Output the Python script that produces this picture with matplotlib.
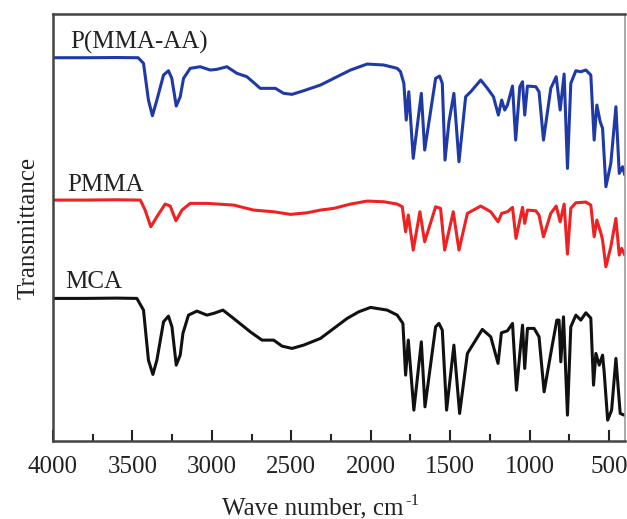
import matplotlib.pyplot as plt
import numpy as np

# wavenumber (cm-1) / transmittance (a.u., curves stacked)
mca_wn = [4000, 3800, 3600, 3472, 3430, 3399, 3371, 3346, 3304, 3273, 3251, 3224, 3199, 3182,
          3147, 3094, 3031, 2989, 2930, 2863, 2758, 2684, 2611, 2558, 2495, 2422, 2316, 2232,
          2148, 2075, 2001, 1896, 1833, 1797, 1780, 1763, 1728, 1681, 1658, 1591, 1570, 1549,
          1522, 1476, 1440, 1391, 1297, 1244, 1198, 1177, 1139, 1107, 1082, 1044, 1030, 1013,
          971, 940, 908, 866, 828, 814, 803, 786, 761, 740, 708, 677, 645, 614, 597, 582, 561,
          540, 530, 508, 483, 456, 429, 404]
mca_t = [142.7, 142.7, 143, 142.7, 131, 81, 66.7, 81, 119.3, 125, 114.3, 76, 86, 107.7,
         126, 130, 126, 127.7, 131, 122.7, 109.3, 101, 101, 95, 92.7, 96, 102.7, 112.7,
         122.7, 129.3, 133.7, 131, 126, 117.7, 66, 101, 31, 99.3, 34.3, 114.3, 117.7, 111,
         31, 96, 27.7, 87.7, 111.7, 104.3, 77.7, 108.3, 110.3, 117.7, 51, 116, 72.7, 112.7,
         112.7, 104.3, 49.3, 87.7, 121, 121, 79.3, 124.3, 26, 114.3, 126, 121, 128.3, 123, 56,
         87.7, 76, 86, 69.3, 21, 31, 82.7, 27.7, 26]

pmma_wn = [4000, 3800, 3600, 3450, 3420, 3384, 3346, 3294, 3262, 3226, 3188, 3136, 3031, 2863,
           2737, 2611, 2505, 2400, 2316, 2232, 2127, 2022, 1917, 1833, 1801, 1780, 1763, 1732,
           1690, 1660, 1591, 1560, 1534, 1480, 1444, 1391, 1307, 1244, 1198, 1175, 1139, 1107,
           1085, 1044, 1030, 1013, 960, 940, 912, 866, 832, 807, 782, 761, 740, 708, 645, 614,
           593, 576, 550, 540, 519, 488, 456, 435, 420, 400]
pmma_t = [241, 241, 241.3, 241, 231, 214.3, 224.3, 237, 235, 220.3, 231, 237.7, 237.7, 236,
          231, 229.3, 226.7, 228.3, 231, 232.7, 237, 240, 239.3, 237, 234.3, 209.3, 226, 191,
          229.3, 199.3, 234.3, 232.7, 191, 229.3, 191, 227.7, 235, 229.3, 219.3, 227.7, 229.3, 233.7,
          202.7, 233.7, 217.7, 231, 230.3, 226, 204.3, 227.7, 235, 219.3, 237, 187, 232.7, 238.3, 239, 236,
          204.3, 221, 207.7, 201, 174.3, 194.3, 222.7, 186, 192.7, 186]

pmaa_wn = [4000, 3800, 3600, 3464, 3430, 3399, 3374, 3346, 3304, 3273, 3252, 3224, 3199, 3178,
           3136, 3073, 3010, 2968, 2905, 2842, 2779, 2695, 2600, 2548, 2495, 2422, 2316, 2232,
           2127, 2022, 1917, 1833, 1812, 1791, 1776, 1760, 1732, 1681, 1660, 1591, 1566, 1549,
           1532, 1507, 1476, 1444, 1402, 1370, 1307, 1265, 1227, 1196, 1175, 1156, 1139, 1107,
           1087, 1061, 1044, 1030, 1013, 960, 940, 912, 866, 832, 807, 782, 761, 740, 708, 677,
           645, 614, 593, 576, 555, 540, 519, 488, 456, 435, 414, 400]
pmaa_t = [383.3, 383.3, 383.5, 383.3, 377.7, 341, 325.3, 341, 366, 370.3, 362.7, 335, 344.3, 362.7,
          372.7, 374.3, 371, 371.7, 374.3, 367.7, 364.3, 352.7, 352.7, 347.7, 346.7, 350.3, 356, 362.7,
          371, 377, 376, 372.7, 369.3, 357.7, 321, 349.3, 282.7, 347.7, 291, 362.7, 365, 357.7,
          281, 319.3, 347.7, 279.3, 344.3, 349.3, 361, 352.7, 344.3, 326, 341, 331, 336, 355,
          301, 354.3, 359.3, 326, 355, 354.3, 349.3, 301, 352.7, 364.3, 331, 367, 272.7, 357.7, 370.3, 369.3,
          371, 366, 301, 336, 319.3, 312.7, 254.3, 277.7, 334.3, 267.7, 274.3, 266]

series = [("P(MMA-AA)", pmaa_wn, pmaa_t, "#1f3aa6", (3893, 399)),
          ("PMMA", pmma_wn, pmma_t, "#ee2222", (3912, 256)),
          ("MCA", mca_wn, mca_t, "#111111", (3924, 159))]

plt.rcParams['font.family'] = ['Liberation Serif', 'DejaVu Serif']

fig = plt.figure(figsize=(6.27, 5.19), dpi=100)
ax = fig.add_axes([0.0845, 0.150, 0.912, 0.823])

for name, wn, t, col, pos in series:
    ax.plot(np.asarray(wn), np.asarray(t), color=col, lw=2.2,
            solid_joinstyle='round', solid_capstyle='round')
    ax.text(pos[0], pos[1], name, fontsize=18, color='#222222', va='center', ha='left')

ax.set_xlim(4000, 400)
ax.set_ylim(0, 427)
ax.set_xticks([4000, 3500, 3000, 2500, 2000, 1500, 1000, 500])
ax.set_xticks(np.arange(3750, 400, -500), minor=True)
ax.set_yticks([])
ax.tick_params(axis='x', which='major', direction='in', length=8, width=1.5,
               labelsize=18, pad=11, colors='#222222')
ax.tick_params(axis='x', which='minor', direction='in', length=5, width=1.5, colors='#222222')

for side in ['left', 'bottom', 'top']:
    ax.spines[side].set_color('#444444')
    ax.spines[side].set_linewidth(1.8)
ax.spines['right'].set_color('#999999')
ax.spines['right'].set_linewidth(1.2)

# x label placed by hand, with a small "-1" exponent after it
xl = fig.text(222 / 627, 1 - 514 / 519, 'Wave number, cm', fontsize=18,
              color='#222222', ha='left', va='baseline')
ax.annotate('-1', xy=(1, 1), xycoords=xl, xytext=(1.5, 3), textcoords='offset points',
            fontsize=12, color='#222222', ha='left', va='top')
ax.set_ylabel('Transmittance', fontsize=18, color='#222222', labelpad=10)

fig.savefig('out.png', dpi=100)
